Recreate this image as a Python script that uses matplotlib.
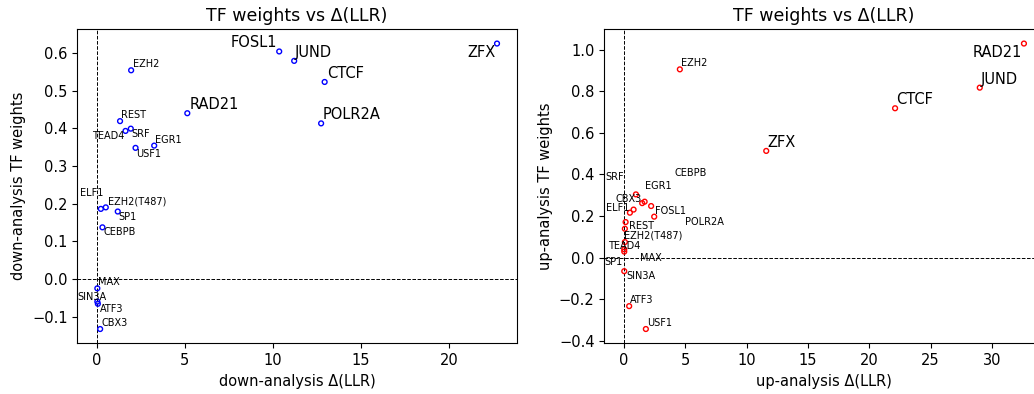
import matplotlib
matplotlib.use("Agg")
import matplotlib.pyplot as plt

# TF weights against change in log-likelihood ratio, down- and up-analysis
down_tfs = ["EZH2", "FOSL1", "JUND", "CTCF", "ZFX", "RAD21", "POLR2A", "REST",
            "TEAD4", "SRF", "EGR1", "USF1", "ELF1", "EZH2(T487)", "SP1", "CEBPB",
            "MAX", "SIN3A", "ATF3", "CBX3"]
down_dllr = [1.95, 10.36, 11.21, 12.94, 22.73, 5.14, 12.74, 1.32,
             1.63, 1.93, 3.26, 2.20, 0.23, 0.51, 1.19, 0.32,
             0.03, 0.03, 0.06, 0.19]
down_weight = [0.554, 0.604, 0.579, 0.523, 0.625, 0.440, 0.413, 0.419,
               0.393, 0.399, 0.354, 0.348, 0.186, 0.190, 0.179, 0.137,
               -0.025, -0.060, -0.066, -0.133]

up_tfs = ["EZH2", "RAD21", "JUND", "CTCF", "ZFX", "SRF", "CEBPB", "EGR1",
          "CBX3", "ELF1", "FOSL1", "REST", "POLR2A", "EZH2(T487)", "TEAD4",
          "MAX", "SP1", "SIN3A", "ATF3", "USF1"]
up_dllr = [4.56, 32.6, 29.0, 22.1, 11.6, 0.79, 1.49, 1.69,
           0.98, 0.49, 2.47, 0.14, 2.22, 0.08, 0.08,
           0.03, 0.03, 0.03, 0.43, 1.79]
up_weight = [0.905, 1.029, 0.817, 0.718, 0.513, 0.231, 0.262, 0.269,
             0.304, 0.216, 0.197, 0.171, 0.248, 0.139, 0.075,
             0.040, 0.029, -0.065, -0.233, -0.343]

# label placement (dx, dy in pixels, ha, va)
down_offsets = {
    "EZH2": (2, 3, "left", "baseline"), "FOSL1": (-2, 4, "right", "baseline"),
    "JUND": (1, 4, "left", "baseline"), "CTCF": (2, 4, "left", "baseline"),
    "ZFX": (-1, -1, "right", "top"), "RAD21": (2, 4, "left", "baseline"),
    "POLR2A": (2, 4, "left", "baseline"), "REST": (1, 3, "left", "baseline"),
    "TEAD4": (-1, 0, "right", "top"), "SRF": (1, 0, "left", "top"),
    "EGR1": (1, 3, "left", "baseline"), "USF1": (1, -1, "left", "top"),
    "ELF1": (3, 13, "right", "baseline"), "EZH2(T487)": (2, 3, "left", "baseline"),
    "SP1": (1, 0, "left", "top"), "CEBPB": (1, 0, "left", "top"),
    "MAX": (1, 3, "left", "baseline"), "SIN3A": (-20, 2, "left", "baseline"),
    "ATF3": (2, 0, "left", "top"), "CBX3": (1, 3, "left", "baseline"),
}
up_offsets = {
    "EZH2": (1, 3, "left", "baseline"), "RAD21": (-2, -1, "right", "top"),
    "JUND": (1, 4, "left", "baseline"), "CTCF": (1, 4, "left", "baseline"),
    "ZFX": (1, 4, "left", "baseline"), "SRF": (-28, 30, "left", "baseline"),
    "CEBPB": (32, 27, "left", "baseline"), "EGR1": (0, 13, "left", "baseline"),
    "CBX3": (-20, -8, "left", "baseline"), "ELF1": (-1, 2, "right", "baseline"),
    "FOSL1": (1, 3, "left", "baseline"), "REST": (3, -7, "left", "baseline"),
    "POLR2A": (34, -19, "left", "baseline"), "EZH2(T487)": (-1, -10, "left", "baseline"),
    "TEAD4": (-17, -7, "left", "baseline"), "MAX": (16, -12, "left", "baseline"),
    "SP1": (-2, -13, "right", "baseline"), "SIN3A": (2, -8, "left", "baseline"),
    "ATF3": (1, 3, "left", "baseline"), "USF1": (1, 3, "left", "baseline"),
}


def tf_scatter(ax, names, dllr, weight, offsets, color, prefix):
    ax.scatter(dllr, weight, s=12, facecolors="none", edgecolors=color, linewidths=1, zorder=3)
    ax.axhline(0, color="black", linestyle="--", linewidth=0.7)
    ax.axvline(0, color="black", linestyle="--", linewidth=0.7)
    for name, x, y in zip(names, dllr, weight):
        dx, dy, ha, va = offsets[name]
        ax.annotate(name, (x, y), xytext=(dx, dy), textcoords="offset pixels",
                    ha=ha, va=va, fontsize=10.5 if x > 5 else 7)
    ax.set_title("TF weights vs Δ(LLR)", fontsize=12.5)
    ax.set_xlabel(f"{prefix}-analysis Δ(LLR)", fontsize=10.5)
    ax.set_ylabel(f"{prefix}-analysis TF weights", fontsize=10.5)
    ax.tick_params(labelsize=10.5)


fig = plt.figure(figsize=(10.34, 3.94), dpi=100)
ax1 = fig.add_axes([0.0748, 0.1287, 0.4252, 0.797])
ax2 = fig.add_axes([0.5844, 0.1287, 0.4252, 0.797])

tf_scatter(ax1, down_tfs, down_dllr, down_weight, down_offsets, "blue", "down")
tf_scatter(ax2, up_tfs, up_dllr, up_weight, up_offsets, "red", "up")

fig.savefig("out.png", dpi=100)
